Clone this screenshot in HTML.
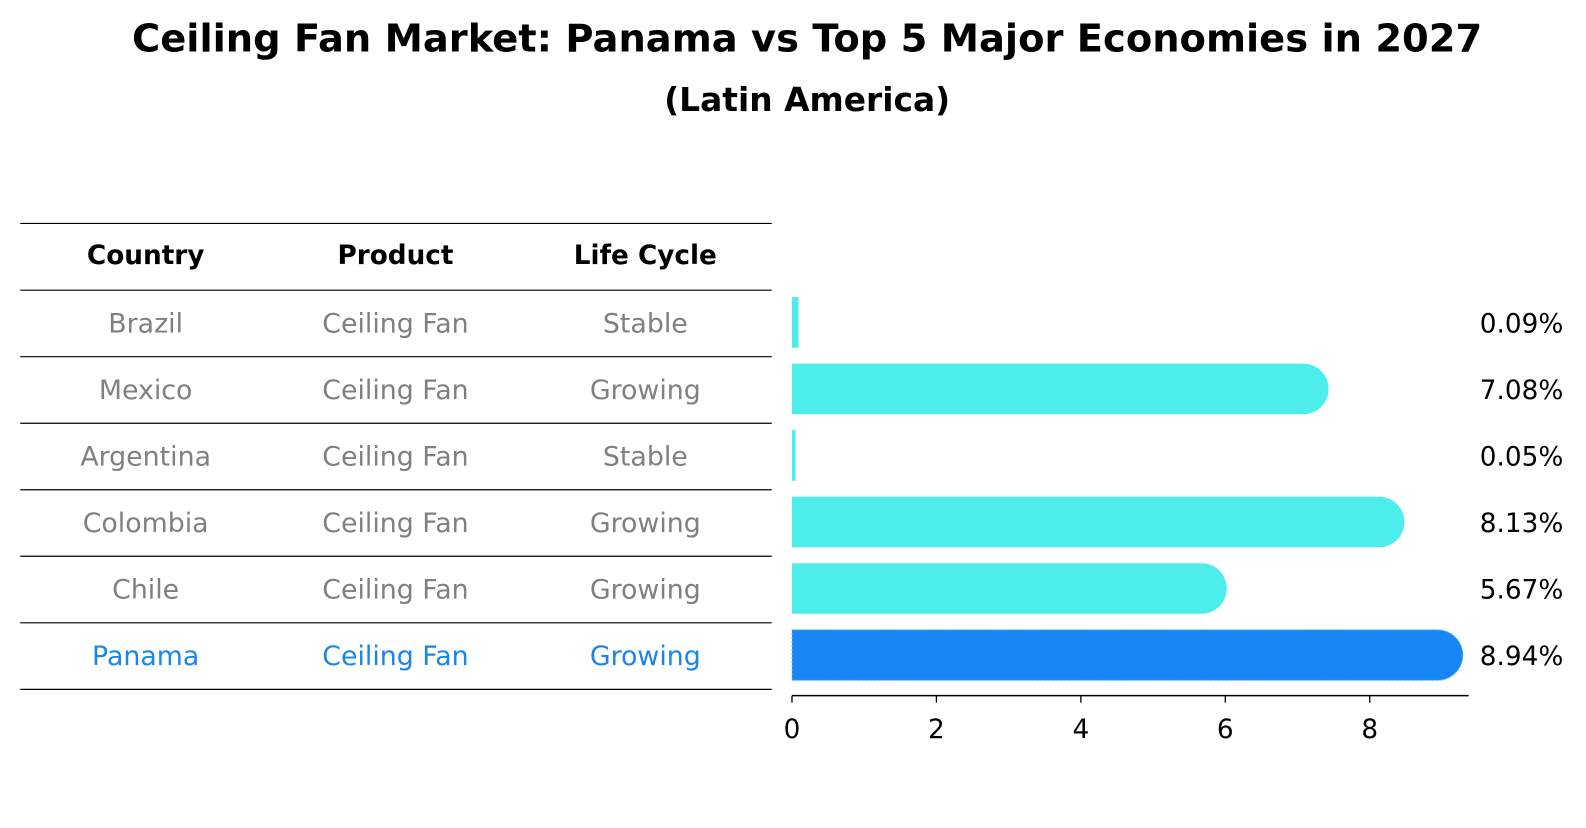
<!DOCTYPE html>
<html><head><meta charset="utf-8"><style>
body{margin:0;background:#fff;font-family:"Liberation Sans","DejaVu Sans",sans-serif;}
svg text{font-family:"DejaVu Sans","Liberation Sans",sans-serif;}
</style></head><body>
<svg id="chart" width="1586" height="823" viewBox="0 0 1568 814" preserveAspectRatio="none" xmlns="http://www.w3.org/2000/svg">
<rect width="1568" height="814" fill="#fff"/>
<text x="798" y="51" text-anchor="middle" font-size="38" font-weight="bold">Ceiling Fan Market: Panama vs Top 5 Major Economies in 2027</text>
<text x="798" y="110" text-anchor="middle" font-size="32.5" font-weight="bold">(Latin America)</text>
<g id="table"></g>
<g id="bars"></g>
<g id="axis"></g>
</svg>
<script>
const countries=["Brazil","Mexico","Argentina","Colombia","Chile","Panama"];
const products=["Ceiling Fan","Ceiling Fan","Ceiling Fan","Ceiling Fan","Ceiling Fan","Ceiling Fan"];
const lifeCycles=["Stable","Growing","Stable","Growing","Growing","Growing"];
const values=[0.09,7.08,0.05,8.13,5.67,8.94];
const ticks=[0,2,4,6,8];
const NS="http://www.w3.org/2000/svg";
function mk(tag,attrs,parent,txt){const e=document.createElementNS(NS,tag);for(const k in attrs)e.setAttribute(k,attrs[k]);if(txt!==undefined)e.textContent=txt;parent.appendChild(e);return e;}
const x0=783,scale=71.4;
const xs=v=>x0+v*scale;
const rowTop=r=>287+r*65.8;
const rowMid=r=>rowTop(r)+32.9;
const table=document.getElementById('table');
const lineYs=[221,287];
for(let i=1;i<=countries.length;i++)lineYs.push(287+i*65.8);
lineYs.forEach(y=>{const l=mk('line',{x1:20,x2:763,y1:y,y2:y,stroke:'#000','stroke-width':1.2},table);

});
const cols=[144,391,638];
["Country","Product","Life Cycle"].forEach((h,i)=>{const t=mk('text',{x:cols[i],y:261,'text-anchor':'middle','font-size':26,'font-weight':'bold'},table,h);

});
countries.forEach((c,r)=>{const col=c==="Panama"?"#1a86e6":"#808080";
[c,products[r],lifeCycles[r]].forEach((v,i)=>{const t=mk('text',{x:cols[i],y:rowMid(r)+9,'text-anchor':'middle','font-size':26.5,fill:col},table,v);

});});
const bars=document.getElementById('bars');
values.forEach((v,r)=>{const isP=countries[r]==="Panama";const col=isP?"#1a86f5":"#4cedeb";
const cy=rowMid(r)-1,h=50,w=v*scale;
const g=mk('g',{},bars);


if(w>30){mk('path',{d:`M${x0},${cy-h/2} H${x0+w} A25,25 0 0 1 ${x0+w},${cy+h/2} H${x0} Z`,fill:col,stroke:isP?'#5fc8f0':'none','stroke-dasharray':'2,2','stroke-width':1},g);}
else mk('rect',{x:x0,y:cy-h/2,width:w,height:h,fill:col},g);
const t=mk('text',{x:1463,y:cy+10,'font-size':26},bars,v.toFixed(2)+'%');

});
const axis=document.getElementById('axis');
mk('line',{x1:x0,x2:1452,y1:688,y2:688,stroke:'#000','stroke-width':1.5},axis);
ticks.forEach(tv=>{mk('line',{x1:xs(tv),x2:xs(tv),y1:688,y2:695,stroke:'#000','stroke-width':1.3},axis);
const t=mk('text',{x:xs(tv),y:730,'text-anchor':'middle','font-size':26},axis,tv);

});
</script>
</body></html>
